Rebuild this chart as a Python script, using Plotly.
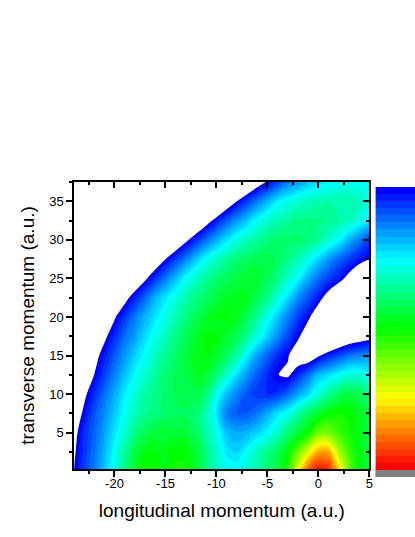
import plotly.graph_objects as go

x_values = list(range(-24, 6))
y_values = [0.3, 2.5, 5, 7.5, 10, 12.5, 15, 17.5, 20, 22.5, 25, 27.5, 30, 32.5, 35, 37.5]
row_00 = [0, .07, .13, .2, .28, .38, .47, .52, .52, .5, .53, .53, .47, .38, .32, .28, .27, .3, .35, .4, .45, .55, .75, .92, 1.0, .97, .8, .62, .5, .45]
row_01 = [-.014, .06, .12, .19, .27, .36, .45, .5, .5, .49, .52, .51, .46, .39, .31, .24, .22, .27, .33, .38, .43, .5, .62, .74, .85, .85, .68, .57, .5, .45]
row_02 = [-.03, .05, .11, .17, .24, .31, .38, .43, .46, .46, .46, .46, .42, .35, .28, .2, .18, .19, .22, .26, .32, .4, .46, .52, .62, .62, .57, .53, .49, .45]
row_03 = [-.06, .015, .09, .15, .21, .27, .33, .37, .39, .41, .42, .42, .4, .34, .24, .13, .1, .1, .13, .18, .24, .28, .35, .42, .47, .51, .53, .52, .48, .44]
row_04 = [-.09, -.02, .05, .12, .18, .25, .3, .35, .38, .41, .43, .44, .44, .4, .28, .2, .14, .09, .06, .05, .06, .11, .17, .23, .3, .37, .42, .45, .43, .38]
row_05 = [-.14, -.07, 0, .07, .14, .2, .26, .31, .36, .4, .43, .45, .48, .47, .4, .31, .23, .16, .1, .05, .002, -.015, .05, .12, .2, .23, .27, .3, .3, .26]
row_06 = [-.17, -.1, -.035, .035, .1, .16, .22, .27, .32, .37, .41, .45, .49, .5, .47, .42, .35, .25, .17, .11, .05, .007, -.06, -.07, -.01, .04, .08, .12, .14, .16]
row_07 = [-.23, -.16, -.09, -.02, .05, .12, .17, .23, .28, .33, .38, .43, .47, .51, .5, .47, .43, .37, .29, .22, .15, .08, .015, -.06, -.15, -.17, -.12, -.08, -.06, -.04]
row_08 = [-.29, -.22, -.15, -.08, -.01, .06, .13, .19, .24, .29, .34, .39, .43, .47, .5, .51, .48, .43, .36, .28, .21, .14, .07, .015, -.06, -.13, -.2, -.25, -.3, -.3]
row_09 = [-.38, -.31, -.24, -.17, -.1, -.03, .04, .11, .19, .24, .29, .34, .38, .42, .45, .48, .49, .48, .43, .38, .3, .23, .15, .09, .03, -.04, -.1, -.16, -.22, -.28]
row_10 = [-.5, -.43, -.36, -.29, -.22, -.15, -.08, -.015, .06, .13, .2, .27, .32, .36, .4, .43, .45, .47, .47, .43, .38, .31, .26, .18, .12, .07, .03, -.03, -.09, -.15]
row_11 = [-.63, -.56, -.49, -.42, -.35, -.28, -.21, -.14, -.07, 0, .07, .14, .21, .27, .32, .36, .4, .42, .44, .44, .42, .38, .34, .28, .22, .16, .11, .07, .03, 0]
row_12 = [-.79, -.72, -.65, -.58, -.51, -.44, -.37, -.3, -.23, -.16, -.09, -.02, .05, .12, .18, .24, .29, .33, .36, .39, .41, .41, .41, .39, .36, .31, .26, .19, .13, .07]
row_13 = [-.95, -.88, -.81, -.74, -.67, -.6, -.53, -.46, -.39, -.32, -.25, -.18, -.11, -.04, .03, .1, .16, .21, .27, .31, .34, .36, .38, .38, .38, .37, .35, .33, .29, .25]
row_14 = [-1.12, -1.05, -.98, -.91, -.84, -.77, -.7, -.63, -.56, -.49, -.42, -.35, -.28, -.21, -.14, -.07, 0, .07, .13, .19, .25, .28, .31, .33, .34, .35, .35, .35, .33, .28]
row_15 = [-1.31, -1.24, -1.17, -1.1, -1.03, -.96, -.89, -.82, -.75, -.68, -.61, -.54, -.47, -.4, -.33, -.26, -.19, -.12, -.05, .01, .07, .13, .16, .2, .23, .25, .26, .27, .27, .27]
z_rows = [row_00, row_01, row_02, row_03, row_04, row_05, row_06, row_07, row_08, row_09,
          row_10, row_11, row_12, row_13, row_14, row_15]

bar_levels = [i / 39 for i in range(40)]
bar_positions = list(range(40))
x_ticks = [-20, -15, -10, -5, 0, 5]
y_ticks = [5, 10, 15, 20, 25, 30, 35]
x_minor = [-22.5, -17.5, -12.5, -7.5, -2.5, 2.5]
y_minor = [2.5, 7.5, 12.5, 17.5, 22.5, 27.5, 32.5, 37.5]

rainbow = [[0, "rgb(0,0,255)"], [.25, "rgb(0,255,255)"], [.5, "rgb(0,255,0)"], [.75, "rgb(255,255,0)"], [1, "rgb(255,0,0)"]]

n_bands = 42
contour_scale = [[0, "white"], [0.99 / n_bands, "white"], [1.0 / n_bands, "rgb(0,0,255)"]]
for p, c in rainbow[1:]:
    contour_scale.append([1.0 / n_bands + p * (1 - 1.0 / n_bands), c])

XR = [-23.94, 5]
YR = [0.29, 37.5]
FONT = "Liberation Sans, Arial, sans-serif"
FW = 419

fig = go.Figure()
fig.add_trace(go.Contour(
    x=x_values, y=y_values, z=z_rows, colorscale=contour_scale, showscale=False,
    contours=dict(start=0, end=1, size=0.025, coloring="fill", showlines=False),
    line=dict(width=0), hoverinfo="skip"))
fig.add_trace(go.Heatmap(
    x=[0], y=bar_positions, z=[[v] for v in bar_levels], zmin=0, zmax=1,
    colorscale=rainbow, showscale=False, xaxis="x2", yaxis="y2", hoverinfo="skip"))
fig.add_trace(go.Scatter(x=[None], y=[None], xaxis="x3", yaxis="y3", showlegend=False))

axis_common = dict(showgrid=False, zeroline=False, showline=True, linecolor="black", linewidth=2,
                   tickcolor="black", tickwidth=1.5, ticklen=6)
def minor(vals, side):
    return dict(tickvals=vals, ticklen=3, tickwidth=1.5, tickcolor="black", ticks=side)
dom_x = [75 / FW, 373 / FW]
dom_y = [(537 - 469) / 537, (537 - 182) / 537]

fig.update_layout(
    width=FW, height=537, margin=dict(l=0, r=0, t=0, b=0), autosize=False,
    paper_bgcolor="white", plot_bgcolor="white", showlegend=False,
    font=dict(family=FONT, color="black", size=13),
    xaxis=dict(domain=dom_x, range=XR, anchor="y", tickmode="array", tickvals=x_ticks,
               ticktext=[str(v) for v in x_ticks], ticks="outside", minor=minor(x_minor, "outside"),
               ticklabelstandoff=-5,
               title=dict(text="longitudinal momentum (a.u.)", font=dict(size=19, family=FONT), standoff=14),
               tickfont=dict(size=13), **axis_common),
    yaxis=dict(domain=dom_y, range=YR, anchor="x", tickmode="array", tickvals=y_ticks,
               ticktext=[str(v) for v in y_ticks], ticks="outside", minor=minor(y_minor, "outside"),
               title=dict(text="transverse momentum (a.u.)", font=dict(size=19, family=FONT), standoff=10),
               tickfont=dict(size=13), **axis_common),
    xaxis2=dict(domain=[379 / FW, 1], anchor="y2", visible=False),
    yaxis2=dict(domain=[(537 - 470) / 537, (537 - 187) / 537], anchor="x2", visible=False, autorange="reversed"),
    xaxis3=dict(domain=dom_x, range=XR, anchor="y3", overlaying="x", side="top", ticks="inside",
                tickmode="array", tickvals=x_ticks, showticklabels=False, minor=minor(x_minor, "inside"), **axis_common),
    yaxis3=dict(domain=dom_y, range=YR, anchor="x3", overlaying="y", side="right", ticks="inside",
                tickmode="array", tickvals=y_ticks, showticklabels=False, minor=minor(y_minor, "inside"), **axis_common),
    shapes=[dict(type="rect", xref="paper", yref="paper", x0=379 / FW, x1=1,
                 y0=(537 - 477) / 537, y1=(537 - 470) / 537, fillcolor="#808080", line=dict(width=0))],
)
fig.write_html("out.html", config=dict(displayModeBar=False),
               post_script="document.body.style.margin='0';document.documentElement.style.overflow='hidden';")
